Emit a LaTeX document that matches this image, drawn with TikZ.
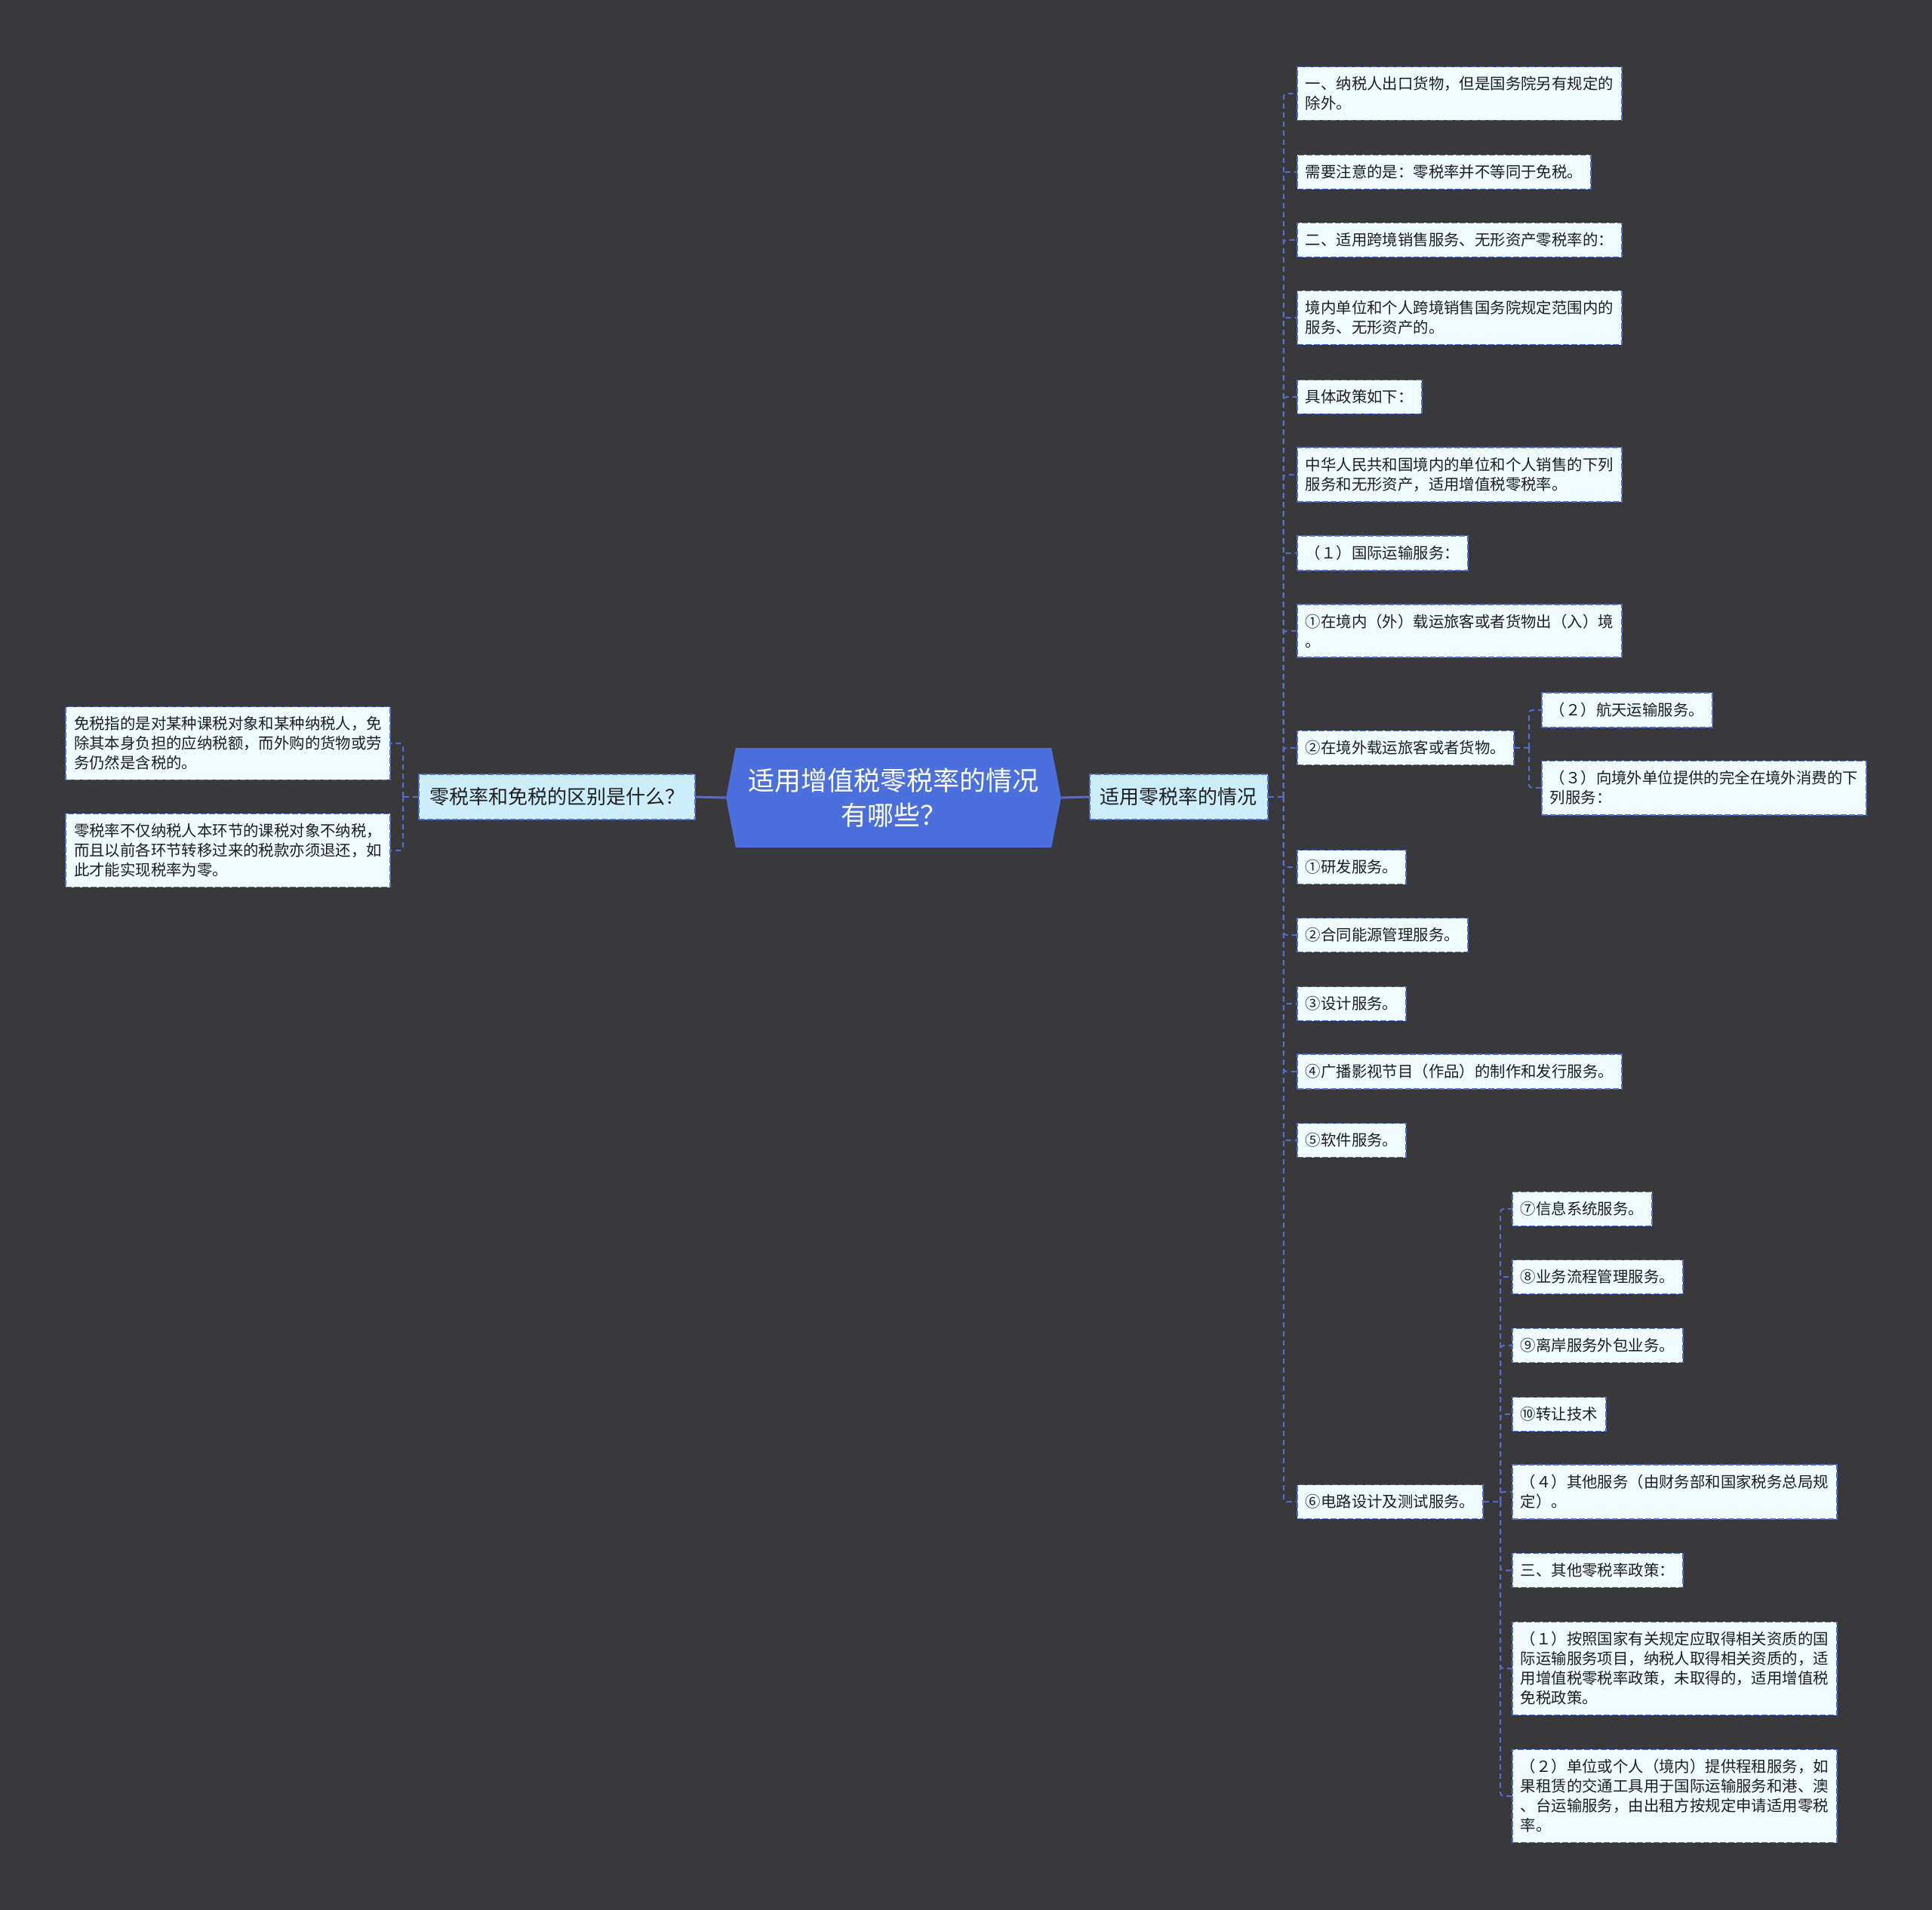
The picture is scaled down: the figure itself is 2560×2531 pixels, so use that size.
\documentclass[tikz,border=0pt]{standalone}
\usepackage{fontspec}
\setmainfont{Noto Sans CJK SC}
\usepackage{tikz}
\usetikzlibrary{shapes.symbols,positioning}
\definecolor{cBg}{HTML}{39383A}
\definecolor{cRoot}{HTML}{4B70DD}
\definecolor{cTopic}{HTML}{CCEEFC}
\definecolor{cLeaf}{HTML}{F0FBFF}
\definecolor{cLine}{HTML}{526ED2}
\definecolor{cInk}{HTML}{1E1E1E}
\tikzset{
  root/.style ={shape=signal, signal to=west and east, signal pointer angle=158,
                fill=cRoot, text=white, align=center, inner sep=0pt,
                minimum width=222pt, minimum height=66pt,
                font=\fontsize{17.5}{23}\selectfont},
  topic/.style={draw=cLine, line width=0.9pt, dash pattern=on 4pt off 1.5pt, fill=cTopic,
                text=cInk, inner xsep=7pt, inner ysep=9pt, font=\fontsize{13}{16}\selectfont},
  leaf/.style ={draw=cLine, line width=0.9pt, dash pattern=on 4pt off 1.5pt, fill=cLeaf,
                text=cInk, align=left, inner xsep=5.5pt, inner ysep=6.5pt,
                font=\fontsize{10.2}{13}\selectfont},
  link/.style ={draw=cLine, line width=1pt, dash pattern=on 3.5pt off 2.5pt, rounded corners=2pt},
  mainlink/.style={draw=cLine, line width=1.5pt},
}

\begin{document}
\begin{tikzpicture}[x=0.5pt, y=-0.5pt]
  \fill[cBg] (0,0) rectangle (2560,2531);
  % centre and first level
  \node[root] (root) at (1184,1057) {适用增值税零税率的情况\\有哪些？};
  \node[topic, anchor=east] (qdiff) at (922,1056) {零税率和免税的区别是什么？};
  \node[topic, anchor=west] (case) at (1443,1056) {适用零税率的情况};
  \draw[mainlink] (root.west) -- (qdiff.east);
  \draw[mainlink] (root.east) -- (case.west);

  % left branch
  \node[leaf, anchor=east] (d1) at (518,985) {免税指的是对某种课税对象和某种纳税人，免\\除其本身负担的应纳税额，而外购的货物或劳\\务仍然是含税的。};
  \node[leaf, anchor=east] (d2) at (518,1127) {零税率不仅纳税人本环节的课税对象不纳税，\\而且以前各环节转移过来的税款亦须退还，如\\此才能实现税率为零。};
  \coordinate (tL) at ([xshift=-10pt]qdiff.west);
  \draw[link] (qdiff.west) -- (tL);
  \draw[link] (tL) |- (d1.east);
  \draw[link] (tL) |- (d2.east);

  % right branch
  \node[leaf, anchor=west] (c1) at (1718,124) {一、纳税人出口货物，但是国务院另有规定的\\除外。};
  \node[leaf, anchor=west] (c2) at (1718,228) {需要注意的是：零税率并不等同于免税。};
  \node[leaf, anchor=west] (c3) at (1718,318) {二、适用跨境销售服务、无形资产零税率的：};
  \node[leaf, anchor=west] (c4) at (1718,421) {境内单位和个人跨境销售国务院规定范围内的\\服务、无形资产的。};
  \node[leaf, anchor=west] (c5) at (1718,526) {具体政策如下：};
  \node[leaf, anchor=west] (c6) at (1718,629) {中华人民共和国境内的单位和个人销售的下列\\服务和无形资产，适用增值税零税率。};
  \node[leaf, anchor=west] (c7) at (1718,733) {（１）国际运输服务：};
  \node[leaf, anchor=west] (c8) at (1718,836) {①在境内（外）载运旅客或者货物出（入）境\\。};
  \node[leaf, anchor=west] (c9) at (1718,991) {②在境外载运旅客或者货物。};
  \node[leaf, anchor=west] (c10) at (1718,1149) {①研发服务。};
  \node[leaf, anchor=west] (c11) at (1718,1239) {②合同能源管理服务。};
  \node[leaf, anchor=west] (c12) at (1718,1330) {③设计服务。};
  \node[leaf, anchor=west] (c13) at (1718,1420) {④广播影视节目（作品）的制作和发行服务。};
  \node[leaf, anchor=west] (c14) at (1718,1511) {⑤软件服务。};
  \node[leaf, anchor=west] (c15) at (1718,1990) {⑥电路设计及测试服务。};
  \coordinate (tR) at ([xshift=10pt]case.east);
  \draw[link] (case.east) -- (tR);
  \foreach \n in {c1,c2,c3,c4,c5,c6,c7,c8,c9,c10,c11,c12,c13,c14,c15}
    \draw[link] (tR) |- (\n.west);

  % under (2) in c9
  \node[leaf, anchor=west] (c9a) at (2042,941) {（２）航天运输服务。};
  \node[leaf, anchor=west] (c9b) at (2042,1044) {（３）向境外单位提供的完全在境外消费的下\\列服务：};
  \coordinate (t9) at ([xshift=9.5pt]c9.east);
  \draw[link] (c9.east) -- (t9);
  \draw[link] (t9) |- (c9a.west);
  \draw[link] (t9) |- (c9b.west);

  % under c15
  \node[leaf, anchor=west] (s1) at (2003,1602) {⑦信息系统服务。};
  \node[leaf, anchor=west] (s2) at (2003,1692) {⑧业务流程管理服务。};
  \node[leaf, anchor=west] (s3) at (2003,1783) {⑨离岸服务外包业务。};
  \node[leaf, anchor=west] (s4) at (2003,1874) {⑩转让技术};
  \node[leaf, anchor=west] (s5) at (2003,1977) {（４）其他服务（由财务部和国家税务总局规\\定）。};
  \node[leaf, anchor=west] (s6) at (2003,2081) {三、其他零税率政策：};
  \node[leaf, anchor=west] (s7) at (2003,2211) {（１）按照国家有关规定应取得相关资质的国\\际运输服务项目，纳税人取得相关资质的，适\\用增值税零税率政策，未取得的，适用增值税\\免税政策。};
  \node[leaf, anchor=west] (s8) at (2003,2380) {（２）单位或个人（境内）提供程租服务，如\\果租赁的交通工具用于国际运输服务和港、澳\\、台运输服务，由出租方按规定申请适用零税\\率。};
  \coordinate (t15) at ([xshift=11pt]c15.east);
  \draw[link] (c15.east) -- (t15);
  \foreach \n in {s1,s2,s3,s4,s5,s6,s7,s8}
    \draw[link] (t15) |- (\n.west);
\end{tikzpicture}
\end{document}
